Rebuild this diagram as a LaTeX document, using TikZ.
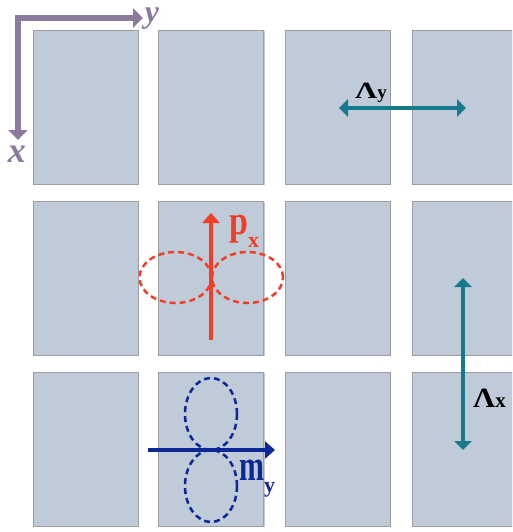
\documentclass[tikz,border=0pt]{standalone}
\usepackage{fontspec}
\setmainfont{Liberation Serif}
\usetikzlibrary{arrows.meta,shapes.geometric,shadows}
\definecolor{cellfill}{RGB}{191,203,217}
\definecolor{axiscol}{RGB}{139,122,155}
\definecolor{redcol}{RGB}{240,62,40}
\definecolor{bluecol}{RGB}{12,40,150}
\definecolor{tealcol}{RGB}{22,122,140}
\tikzset{
  cellbox/.style={draw=black!38, line width=0.8pt, fill=cellfill, minimum width=105pt, minimum height=154pt, inner sep=0pt,
    drop shadow={shadow xshift=1.2pt, shadow yshift=-1.2pt, opacity=0.35, fill=black!60}},
  lobe/.style={ellipse, draw, dashed, dash pattern=on 6pt off 4pt, line width=2.5pt, inner sep=0pt},
  axisarrow/.style={draw=axiscol, line width=6pt, line join=miter, {Triangle[length=10pt,width=19pt]}-{Triangle[length=10pt,width=19pt]}},
  latarrow/.style={draw=tealcol, line width=4.5pt, {Triangle[length=9pt,width=17pt]}-{Triangle[length=9pt,width=17pt]}},
  momarrow/.style={line width=4pt, -{Triangle[length=10pt,width=17pt]}},
}
\begin{document}
\begin{tikzpicture}[x=1pt,y=-1pt]
\useasboundingbox (0,0) rectangle (512,532);
\clip (0,0) rectangle (512,532);
% cells
\foreach \r/\yc in {1/107,2/278,3/449}{
  \foreach \c/\xc in {1/85.5,2/211,3/337.5,4/465}{
    \node[cellbox] (c\r\c) at (\xc,\yc) {};
  }
}
% axes
\coordinate (axcorner) at (18,18);
\coordinate (axxtip) at (18,140);
\coordinate (axytip) at (143,18);
\draw[axisarrow] (axxtip) -- (axcorner) -- (axytip);
\node[anchor=base, text=axiscol, font=\fontsize{36}{36}\selectfont\bfseries\itshape, inner sep=0pt] (xlab) at (17,162) {x};
\node[anchor=base, text=axiscol, font=\fontsize{32}{32}\selectfont\bfseries\itshape, inner sep=0pt] (ylab) at (152,23) {y};
% lattice constants
\coordinate (lyl) at (339,108);
\coordinate (lyr) at (466,108);
\draw[latarrow] (lyl) -- (lyr);
\node[anchor=base west, inner sep=0pt] (lylab) at (355,99)
  {\scalebox{1}[0.75]{\fontsize{31}{31}\selectfont\bfseries Λ}{\fontsize{19}{19}\selectfont\bfseries y}};
\coordinate (lxt) at (463,278);
\coordinate (lxb) at (463,450);
\draw[latarrow] (lxt) -- (lxb);
\node[anchor=base west, inner sep=0pt] (lxlab) at (473,407)
  {\scalebox{1}[0.9]{\fontsize{31}{31}\selectfont\bfseries Λ}{\fontsize{21}{21}\selectfont\bfseries x}};
% p_x dipole
\node[lobe, draw=redcol, minimum width=72pt, minimum height=51pt] (pl) at (175.5,277.5) {};
\node[lobe, draw=redcol, minimum width=71pt, minimum height=51pt] (pr) at (247.5,277.5) {};
\coordinate (pxs) at (211,340);
\coordinate (pxe) at (211,213);
\draw[momarrow, draw=redcol] (pxs) -- (pxe);
\node[anchor=base west, inner sep=0pt, text=redcol] (pxlab) at (229,234)
  {\scalebox{1}[1.2]{\fontsize{34}{34}\selectfont\bfseries p}\raisebox{-13pt}{\fontsize{22}{22}\selectfont\bfseries x}};
% m_y dipole
\node[lobe, draw=bluecol, minimum width=52pt, minimum height=72pt] (mt) at (211,414) {};
\node[lobe, draw=bluecol, minimum width=52pt, minimum height=72pt] (mb) at (211,486) {};
\coordinate (mys) at (148,450);
\coordinate (mye) at (275,450);
\draw[momarrow, draw=bluecol] (mys) -- (mye);
\node[anchor=base west, inner sep=0pt, text=bluecol] (mylab) at (239,480)
  {\scalebox{1}[1.45]{\fontsize{30}{30}\selectfont\bfseries m}\raisebox{-12pt}{\fontsize{22}{22}\selectfont\bfseries y}};
\end{tikzpicture}
\end{document}
